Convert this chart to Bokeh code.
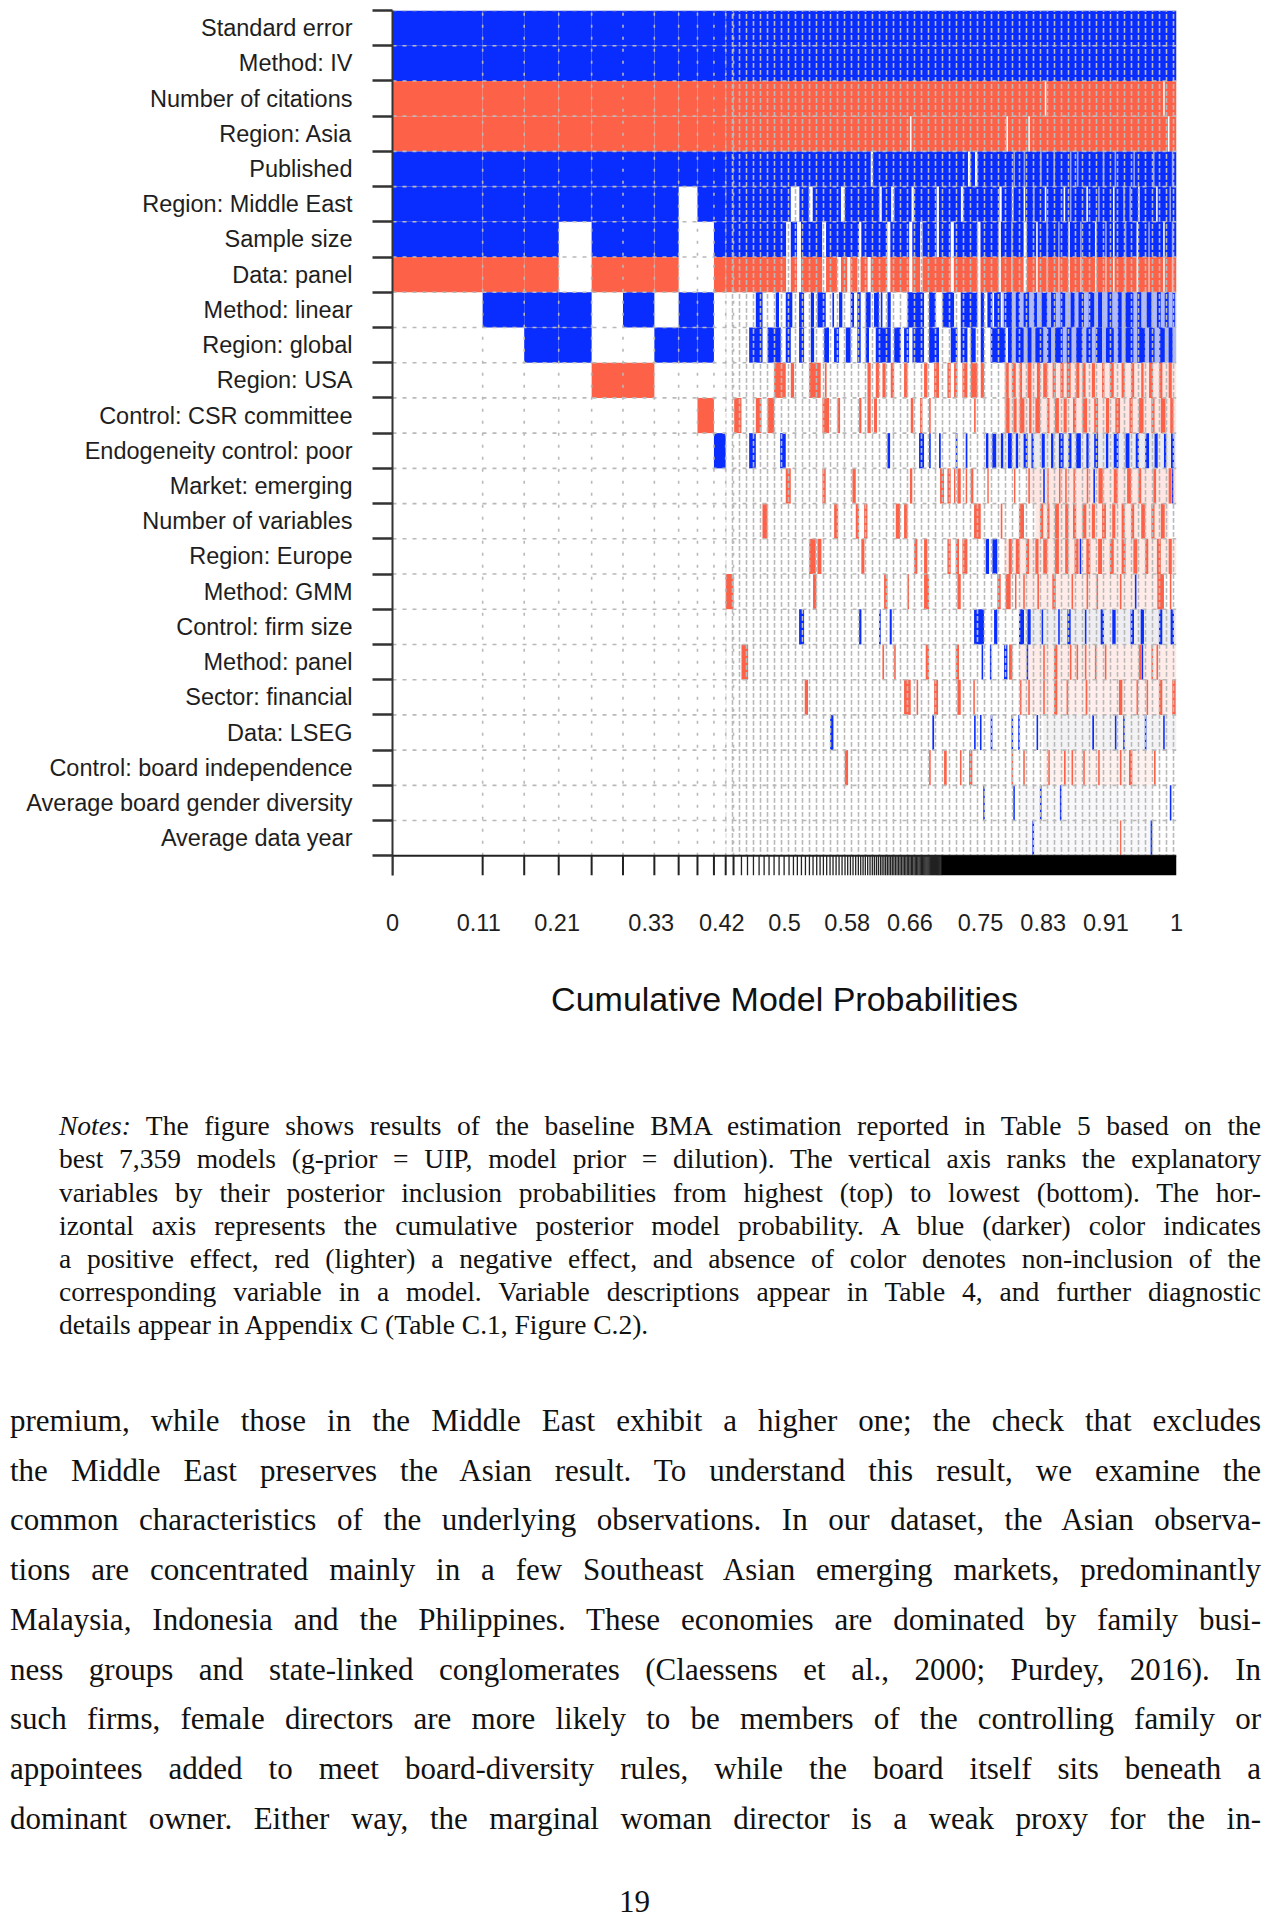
from bokeh.plotting import figure
from bokeh.models import Range1d, FixedTicker, Div
from bokeh.layouts import column
from bokeh.embed import file_html
from bokeh.resources import INLINE

BLUE = "#0a2dff"
RED = "#fd6248"
GRID = "#b9b9b9"

variables = [
    "Standard error", "Method: IV", "Number of citations", "Region: Asia", "Published",
    "Region: Middle East", "Sample size", "Data: panel", "Method: linear", "Region: global",
    "Region: USA", "Control: CSR committee", "Endogeneity control: poor", "Market: emerging",
    "Number of variables", "Region: Europe", "Method: GMM", "Control: firm size",
    "Method: panel", "Sector: financial", "Data: LSEG", "Control: board independence",
    "Average board gender diversity", "Average data year",
]

# cumulative posterior model probability at the edges of the best (widest) models
top_model_edges = [0.0, 0.115, 0.168, 0.212, 0.254, 0.294, 0.334, 0.365, 0.389, 0.410, 0.425, 0.435]
# sign of each variable in those models ('+' positive, '-' negative, '0' not included)
top_model_signs = [
    "++--+++-0000000000000000",
    "++--+++-+000000000000000",
    "++--+++-++00000000000000",
    "++--++00++00000000000000",
    "++--+++-00-0000000000000",
    "++--+++-+0-0000000000000",
    "++--+++-0+00000000000000",
    "++--+000++00000000000000",
    "++--++00++0-000000000000",
    "++--+++-0000+00000000000",
    "++--+++-00000000-0000000",
]

# remaining models (cumulative probability 0.435 - 1): variables included almost everywhere
tail_start = 0.435
tail_full_rows = {
    "Standard error": "+", "Method: IV": "+", "Number of citations": "-", "Region: Asia": "-",
    "Published": "+", "Region: Middle East": "+", "Sample size": "+", "Data: panel": "-",
}
# models where those variables are NOT included
tail_gaps = {
    "Number of citations": [(0.832, 0.834), (0.983, 0.985)],
    "Region: Asia": [(0.660, 0.662), (0.783, 0.785), (0.811, 0.813), (0.989, 0.991)],
    "Published": [(0.610, 0.613), (0.734, 0.737), (0.743, 0.746)],
    "Region: Middle East": [(0.508, 0.519), (0.531, 0.536), (0.572, 0.577), (0.621, 0.624), (0.636, 0.640),
                            (0.662, 0.665), (0.694, 0.697), (0.725, 0.728), (0.774, 0.777), (0.790, 0.792),
                            (0.805, 0.807), (0.832, 0.834), (0.856, 0.858), (0.885, 0.887), (0.919, 0.921),
                            (0.951, 0.953), (0.974, 0.976)],
    "Sample size": [(0.502, 0.508), (0.516, 0.521), (0.548, 0.553), (0.595, 0.598), (0.631, 0.635),
                    (0.659, 0.663), (0.673, 0.676), (0.694, 0.697), (0.712, 0.716), (0.746, 0.750),
                    (0.773, 0.776), (0.805, 0.809), (0.821, 0.823), (0.862, 0.864), (0.896, 0.898),
                    (0.919, 0.921), (0.949, 0.951), (0.983, 0.985)],
    "Data: panel": [(0.502, 0.508), (0.516, 0.521), (0.548, 0.553), (0.567, 0.572), (0.580, 0.584),
                    (0.593, 0.597), (0.606, 0.610), (0.631, 0.635), (0.659, 0.663), (0.673, 0.676),
                    (0.712, 0.716), (0.746, 0.750), (0.773, 0.776), (0.805, 0.809), (0.821, 0.823),
                    (0.862, 0.864), (0.896, 0.898), (0.919, 0.921), (0.949, 0.951), (0.983, 0.985)],
}
# very thin models, partially excluding the variable
tail_soft_gaps = {
    "Published": [(0.792, 0.794), (0.805, 0.807), (0.826, 0.828), (0.843, 0.845), (0.864, 0.866),
                  (0.873, 0.875), (0.906, 0.908), (0.921, 0.923), (0.945, 0.947), (0.970, 0.972), (0.994, 0.996)],
    "Region: Middle East": [(0.817, 0.819), (0.864, 0.866), (0.900, 0.902), (0.932, 0.934), (0.940, 0.942), (0.991, 0.993)],
    "Sample size": [(0.789, 0.791), (0.834, 0.836), (0.849, 0.851), (0.877, 0.879), (0.909, 0.911),
                    (0.934, 0.936), (0.964, 0.966), (0.994, 0.996)],
    "Data: panel": [(0.789, 0.791), (0.834, 0.836), (0.849, 0.851), (0.877, 0.879), (0.909, 0.911),
                    (0.934, 0.936), (0.964, 0.966), (0.994, 0.996)],
}

# remaining models: positive inclusions
tail_positive = {
    "Method: linear": [(0.4634, 0.472), (0.4888, 0.493), (0.5016, 0.510), (0.5186, 0.525), (0.5335, 0.5377),
                       (0.542, 0.5526), (0.5611, 0.5632), (0.5696, 0.5738), (0.5844, 0.5887), (0.5929, 0.5972),
                       (0.6035, 0.6099), (0.6142, 0.6205), (0.6228, 0.6249), (0.6313, 0.6355), (0.6568, 0.678),
                       (0.6844, 0.6929), (0.7014, 0.7163), (0.7248, 0.746), (0.7503, 0.7545), (0.7588, 0.7651),
                       (0.7673, 0.7758), (0.780, 0.790), (0.795, 0.800), (0.805, 0.812), (0.818, 0.822),
                       (0.828, 0.835), (0.840, 0.846), (0.852, 0.858), (0.865, 0.870), (0.875, 0.882),
                       (0.888, 0.895), (0.900, 0.905), (0.912, 0.918), (0.925, 0.930), (0.935, 0.945),
                       (0.950, 0.955), (0.962, 0.968), (0.975, 0.980), (0.985, 0.990), (0.995, 0.998)],
    "Region: global": [(0.4549, 0.472), (0.4783, 0.4953), (0.5016, 0.508), (0.5186, 0.525), (0.5335, 0.5378),
                       (0.5505, 0.5568), (0.5632, 0.5696), (0.5781, 0.5844), (0.5929, 0.5972), (0.6035, 0.6078),
                       (0.6164, 0.6355), (0.6398, 0.6483), (0.6525, 0.6589), (0.6632, 0.678), (0.6844, 0.6971),
                       (0.712, 0.7205), (0.7248, 0.7333), (0.7375, 0.7439), (0.7503, 0.7545), (0.763, 0.7821),
                       (0.785, 0.790), (0.795, 0.805), (0.810, 0.815), (0.820, 0.830), (0.835, 0.840),
                       (0.845, 0.855), (0.860, 0.866), (0.872, 0.880), (0.885, 0.892), (0.897, 0.905),
                       (0.910, 0.920), (0.925, 0.930), (0.935, 0.945), (0.950, 0.960), (0.965, 0.972),
                       (0.978, 0.985), (0.990, 0.995)],
    "Endogeneity control: poor": [(0.4549, 0.4634), (0.4944, 0.5016), (0.6313, 0.6347), (0.6716, 0.678),
                                  (0.6844, 0.6865), (0.6971, 0.6993), (0.7184, 0.7205), (0.7311, 0.7333),
                                  (0.757, 0.760), (0.765, 0.770), (0.776, 0.779), (0.785, 0.790), (0.795, 0.798),
                                  (0.805, 0.810), (0.815, 0.818), (0.828, 0.832), (0.840, 0.843), (0.850, 0.856),
                                  (0.862, 0.866), (0.872, 0.878), (0.885, 0.888), (0.895, 0.900), (0.910, 0.913),
                                  (0.920, 0.926), (0.935, 0.940), (0.948, 0.952), (0.960, 0.965), (0.972, 0.976),
                                  (0.984, 0.987), (0.993, 0.997)],
    "Market: emerging": [(0.8300, 0.8320), (0.8940, 0.8960), (0.9940, 0.9960)],
    "Region: Europe": [(0.7566, 0.7609), (0.7651, 0.7715), (0.8765, 0.8785)],
    "Method: GMM": [(0.9469, 0.9489)],
    "Control: firm size": [(0.5186, 0.525), (0.5951, 0.5981), (0.6206, 0.6228), (0.6342, 0.6368), (0.7418, 0.7545),
                           (0.7673, 0.7715), (0.7991, 0.8055), (0.8098, 0.814), (0.8279, 0.8299), (0.8491, 0.8511),
                           (0.8608, 0.865), (0.8831, 0.8851), (0.9033, 0.9075), (0.9181, 0.9224), (0.9415, 0.9458),
                           (0.9543, 0.9585), (0.9776, 0.9819), (0.9925, 0.9968)],
    "Method: panel": [(0.7514, 0.7534), (0.762, 0.764), (0.780, 0.7843), (0.8088, 0.8108), (0.9555, 0.9575)],
    "Data: LSEG": [(0.5582, 0.5624), (0.6886, 0.6908), (0.7418, 0.7439), (0.7493, 0.7513), (0.763, 0.7651),
                   (0.7896, 0.7916), (0.7981, 0.8001), (0.8215, 0.8235), (0.8926, 0.8948), (0.9214, 0.9234),
                   (0.932, 0.934), (0.9596, 0.9616), (0.983, 0.985)],
    "Average board gender diversity": [(0.7535, 0.7555), (0.7918, 0.7938), (0.8258, 0.8278), (0.8513, 0.8533),
                                       (0.9915, 0.9935)],
    "Average data year": [(0.8161, 0.8183), (0.967, 0.9691)],
}
# remaining models: negative inclusions
tail_negative = {
    "Region: USA": [(0.4867, 0.5016), (0.508, 0.5122), (0.5313, 0.5462), (0.5515, 0.5537), (0.6058, 0.61),
                    (0.6164, 0.6206), (0.6249, 0.6291), (0.6355, 0.6398), (0.6525, 0.6568), (0.678, 0.6823),
                    (0.6908, 0.6971), (0.7078, 0.712), (0.7163, 0.7205), (0.7269, 0.7333), (0.7375, 0.746),
                    (0.7503, 0.7545), (0.782, 0.786), (0.790, 0.795), (0.800, 0.803), (0.810, 0.815),
                    (0.822, 0.826), (0.830, 0.835), (0.842, 0.846), (0.852, 0.856), (0.860, 0.865),
                    (0.872, 0.876), (0.880, 0.884), (0.892, 0.896), (0.905, 0.908), (0.915, 0.920),
                    (0.930, 0.934), (0.942, 0.946), (0.955, 0.958), (0.965, 0.970), (0.978, 0.982), (0.990, 0.994)],
    "Control: CSR committee": [(0.4358, 0.4451), (0.4634, 0.4706), (0.4783, 0.4868), (0.5484, 0.5569),
                               (0.5675, 0.5709), (0.5951, 0.5981), (0.6058, 0.61), (0.6142, 0.618),
                               (0.661, 0.6644), (0.6729, 0.6759), (0.6844, 0.6865), (0.7418, 0.7439),
                               (0.782, 0.787), (0.792, 0.796), (0.800, 0.806), (0.812, 0.815), (0.820, 0.826),
                               (0.835, 0.838), (0.845, 0.850), (0.856, 0.860), (0.868, 0.872), (0.880, 0.886),
                               (0.895, 0.900), (0.910, 0.914), (0.922, 0.928), (0.940, 0.944), (0.952, 0.958),
                               (0.968, 0.972), (0.980, 0.986), (0.992, 0.996)],
    "Market: emerging": [(0.5016, 0.508), (0.5484, 0.5526), (0.5866, 0.5909), (0.6600, 0.6630), (0.6984, 0.7035),
                         (0.7078, 0.712), (0.7162, 0.7180), (0.7205, 0.7248), (0.7311, 0.7330), (0.7375, 0.7409),
                         (0.7587, 0.7605), (0.7927, 0.7945), (0.8110, 0.8130), (0.8352, 0.8370), (0.8501, 0.8520),
                         (0.8580, 0.8600), (0.8685, 0.8705), (0.8855, 0.8875), (0.9005, 0.9060), (0.9200, 0.9250),
                         (0.9370, 0.9420), (0.9515, 0.9550), (0.9705, 0.9740), (0.9900, 0.9935)],
    "Number of variables": [(0.4719, 0.4783), (0.5633, 0.5684), (0.5909, 0.5951), (0.6015, 0.6058),
                            (0.6419, 0.6474), (0.6525, 0.6568), (0.7418, 0.7503), (0.7758, 0.7779),
                            (0.7991, 0.8055), (0.826, 0.830), (0.835, 0.838), (0.845, 0.850), (0.858, 0.862),
                            (0.868, 0.872), (0.880, 0.885), (0.892, 0.896), (0.905, 0.910), (0.918, 0.922),
                            (0.930, 0.934), (0.942, 0.946), (0.955, 0.960), (0.968, 0.972), (0.980, 0.985)],
    "Region: Europe": [(0.5314, 0.5399), (0.542, 0.5471), (0.5980, 0.6020), (0.6653, 0.6695), (0.678, 0.6823),
                       (0.7078, 0.712), (0.7184, 0.7226), (0.7269, 0.7333), (0.786, 0.790), (0.795, 0.800),
                       (0.808, 0.812), (0.820, 0.824), (0.830, 0.835), (0.845, 0.850), (0.858, 0.862),
                       (0.870, 0.875), (0.885, 0.890), (0.900, 0.905), (0.915, 0.920), (0.930, 0.935),
                       (0.945, 0.950), (0.960, 0.964), (0.975, 0.980), (0.990, 0.994)],
    "Method: GMM": [(0.5364, 0.5407), (0.627, 0.6313), (0.6568, 0.6589), (0.678, 0.6844), (0.7205, 0.7248),
                    (0.7715, 0.7758), (0.7821, 0.7885), (0.7939, 0.7959), (0.8045, 0.8065), (0.8225, 0.8246),
                    (0.8416, 0.8459), (0.8661, 0.8681), (0.8853, 0.8873), (0.898, 0.900), (0.9278, 0.9298),
                    (0.9755, 0.984), (0.9915, 0.9935)],
    "Method: panel": [(0.4451, 0.4536), (0.6249, 0.627), (0.6398, 0.6419), (0.6801, 0.6844), (0.7184, 0.7226),
                      (0.7864, 0.7906), (0.830, 0.832), (0.8438, 0.848), (0.864, 0.866), (0.8725, 0.8745),
                      (0.8831, 0.8851), (0.8959, 0.8979), (0.9086, 0.9106), (0.9520, 0.9555), (0.9681, 0.9701),
                      (0.9745, 0.9765)],
    "Sector: financial": [(0.5258, 0.530), (0.6525, 0.661), (0.6685, 0.6705), (0.6908, 0.6959), (0.7205, 0.7248),
                          (0.7408, 0.7428), (0.8003, 0.8023), (0.8109, 0.8129), (0.830, 0.832), (0.8438, 0.848),
                          (0.8598, 0.8618), (0.8841, 0.8863), (0.9266, 0.9309), (0.949, 0.951), (0.9618, 0.9638),
                          (0.9776, 0.9819), (0.9946, 0.9989)],
    "Control: board independence": [(0.5769, 0.5811), (0.6844, 0.6865), (0.7035, 0.7069), (0.7238, 0.7258),
                                    (0.7354, 0.7396), (0.7896, 0.7916), (0.8045, 0.8065), (0.8364, 0.8384),
                                    (0.8565, 0.8586), (0.8661, 0.8681), (0.881, 0.883), (0.9001, 0.9021),
                                    (0.9278, 0.9298), (0.9394, 0.9436), (0.9713, 0.9734)],
    "Average data year": [(0.9280, 0.9296)],
}
# ranges where thousands of tiny models blend into a tint (variable: (from, to, strength))
tail_tint_positive = {"Method: linear": (0.778, 1.0, 0.32), "Region: global": (0.785, 1.0, 0.32)}
tail_tint_negative = {
    "Region: USA": (0.78, 1.0, 0.16), "Control: CSR committee": (0.78, 1.0, 0.16),
    "Market: emerging": (0.81, 1.0, 0.16), "Number of variables": (0.82, 0.99, 0.14),
    "Region: Europe": (0.78, 1.0, 0.14), "Method: GMM": (0.80, 0.98, 0.12),
    "Method: panel": (0.80, 1.0, 0.12), "Sector: financial": (0.80, 1.0, 0.11),
    "Control: board independence": (0.83, 0.97, 0.09),
}
tail_tint_mixed = {
    "Endogeneity control: poor": (0.755, 1.0, 0.18), "Control: firm size": (0.80, 1.0, 0.15),
    "Data: LSEG": (0.83, 1.0, 0.11), "Average board gender diversity": (0.80, 0.97, 0.06),
    "Average data year": (0.80, 0.97, 0.06),
}

# model edges (cumulative probabilities) still distinguishable on the axis
tail_model_edges = [
    0.4451, 0.4528, 0.4604, 0.4676, 0.474, 0.4803, 0.4867, 0.4931, 0.4995, 0.5058, 0.5114, 0.5164,
    0.5216, 0.5267, 0.5318, 0.5364, 0.5411, 0.5454, 0.5496, 0.5538, 0.5581, 0.5619, 0.5658, 0.5696,
    0.5734, 0.5772, 0.5806, 0.5841, 0.5874, 0.5908, 0.5942, 0.5972, 0.6002, 0.6031, 0.6061, 0.6091,
    0.612, 0.6146, 0.6172, 0.6197, 0.6223, 0.6245, 0.6268, 0.629, 0.6312, 0.6333, 0.6354, 0.6375,
    0.6395, 0.6415, 0.6435, 0.6455, 0.6474, 0.6493, 0.6512, 0.653, 0.6548, 0.6566, 0.6584, 0.6601,
    0.6618, 0.6635, 0.6652, 0.6668, 0.6684, 0.67, 0.6716, 0.6731, 0.6746, 0.6761, 0.6776, 0.679,
    0.6804, 0.6818, 0.6832, 0.6846, 0.686, 0.6873, 0.6886, 0.6899, 0.6912, 0.6925, 0.6938, 0.695,
    0.6962, 0.6974, 0.6986, 0.6998,
]
dense_edges_range = (0.70, 1.0)

x_tick_values = [0, 0.11, 0.21, 0.33, 0.42, 0.5, 0.58, 0.66, 0.75, 0.83, 0.91, 1]
x_tick_text = ["0", "0.11", "0.21", "0.33", "0.42", "0.5", "0.58", "0.66", "0.75", "0.83", "0.91", "1"]

notes_lines = [
    "<i>Notes:</i> The figure shows results of the baseline BMA estimation reported in Table 5 based on the",
    "best 7,359 models (g-prior = UIP, model prior = dilution). The vertical axis ranks the explanatory",
    "variables by their posterior inclusion probabilities from highest (top) to lowest (bottom). The hor-",
    "izontal axis represents the cumulative posterior model probability. A blue (darker) color indicates",
    "a positive effect, red (lighter) a negative effect, and absence of color denotes non-inclusion of the",
    "corresponding variable in a model. Variable descriptions appear in Table 4, and further diagnostic",
    "details appear in Appendix C (Table C.1, Figure C.2).",
]
body_lines = [
    "premium, while those in the Middle East exhibit a higher one; the check that excludes",
    "the Middle East preserves the Asian result. To understand this result, we examine the",
    "common characteristics of the underlying observations. In our dataset, the Asian observa-",
    "tions are concentrated mainly in a few Southeast Asian emerging markets, predominantly",
    "Malaysia, Indonesia and the Philippines. These economies are dominated by family busi-",
    "ness groups and state-linked conglomerates (Claessens et al., 2000; Purdey, 2016). In",
    "such firms, female directors are more likely to be members of the controlling family or",
    "appointees added to meet board-diversity rules, while the board itself sits beneath a",
    "dominant owner. Either way, the marginal woman director is a weak proxy for the in-",
]
page_number = "19"

# ------------------------------------------------------------------ figure
K = len(variables)
FIG_W, FIG_H, DIV_H = 1269, 1020, 904


def row_of(name):
    return K - 1 - variables.index(name)


p = figure(width=FIG_W, height=FIG_H, x_range=Range1d(0, 1), y_range=Range1d(-0.56, K),
           output_backend="svg", toolbar_location=None,
           min_border_left=392, min_border_right=93, min_border_top=10, min_border_bottom=144)
p.outline_line_color = None
p.xgrid.visible = False
p.ygrid.visible = False

# best models
L, R, B, T, C = [], [], [], [], []
for i, signs in enumerate(top_model_signs):
    assert len(signs) == K
    for j, s in enumerate(signs):
        if s == "0":
            continue
        L.append(top_model_edges[i]); R.append(top_model_edges[i + 1])
        B.append(K - 1 - j); T.append(K - j)
        C.append(BLUE if s == "+" else RED)
# tail: always-included variables
for name, s in tail_full_rows.items():
    r = row_of(name)
    L.append(tail_start); R.append(1.0); B.append(r); T.append(r + 1)
    C.append(BLUE if s == "+" else RED)
p.quad(left=L, right=R, bottom=B, top=T, fill_color=C, line_color=None)


def quads(d, color, alpha):
    l, r_, b, t = [], [], [], []
    for name, ivs in d.items():
        rr = row_of(name)
        for a, z in ivs:
            l.append(a); r_.append(z); b.append(rr); t.append(rr + 1)
    p.quad(left=l, right=r_, bottom=b, top=t, fill_color=color, fill_alpha=alpha, line_color=None)


def tints(d, color):
    l, r_, b, t, a_ = [], [], [], [], []
    for name, (a, z, s) in d.items():
        rr = row_of(name)
        l.append(a); r_.append(z); b.append(rr); t.append(rr + 1); a_.append(s)
    p.quad(left=l, right=r_, bottom=b, top=t, fill_color=color, fill_alpha=a_, line_color=None)


quads(tail_gaps, "white", 1.0)
quads(tail_soft_gaps, "white", 0.55)
tints(tail_tint_positive, BLUE)
tints(tail_tint_negative, RED)
tints(tail_tint_mixed, "#8e8ea8")
quads(tail_positive, BLUE, 1.0)
quads(tail_negative, RED, 1.0)

# grid: dashed row separators and dotted model separators
p.segment(x0=[0] * K, y0=list(range(1, K + 1)), x1=[1] * K, y1=list(range(1, K + 1)),
          line_color=GRID, line_width=1.6, line_dash="4 6")
p.segment(x0=top_model_edges[1:], y0=[0] * (len(top_model_edges) - 1),
          x1=top_model_edges[1:], y1=[K] * (len(top_model_edges) - 1),
          line_color=GRID, line_width=1.6, line_dash="3 9")
p.quad(left=[top_model_edges[-2]], right=[1.0], bottom=[0], top=[K], fill_color=None, line_color=None,
       hatch_pattern=":", hatch_color=GRID, hatch_scale=7, hatch_weight=1.6)

# x axis line, one tick per model edge, dense edges merge into a band
p.segment(x0=[0], y0=[0], x1=[1], y1=[0], line_color="#222222", line_width=2)
p.segment(x0=top_model_edges, y0=[0] * len(top_model_edges), x1=top_model_edges,
          y1=[-0.56] * len(top_model_edges), line_color="#222222", line_width=2)
p.segment(x0=tail_model_edges, y0=[0] * len(tail_model_edges), x1=tail_model_edges,
          y1=[-0.56] * len(tail_model_edges), line_color="#222222", line_width=1.3)
p.quad(left=[dense_edges_range[0]], right=[dense_edges_range[1]], bottom=[-0.56], top=[0],
       fill_color="black", line_color=None)

# axes
xa = p.xaxis[0]
xa.ticker = FixedTicker(ticks=x_tick_values)
xa.major_label_overrides = {float(v): s for v, s in zip(x_tick_values, x_tick_text)}
xa.axis_line_color = None
xa.major_tick_line_color = None
xa.minor_tick_line_color = None
xa.major_tick_out = 0
xa.minor_tick_out = 0
xa.major_label_standoff = 38
xa.major_label_text_font = "Liberation Sans"
xa.major_label_text_font_size = "23.5px"
xa.major_label_text_color = "#1e1e1e"
xa.axis_label = "Cumulative Model Probabilities"
xa.axis_label_text_font = "Liberation Sans"
xa.axis_label_text_font_style = "normal"
xa.axis_label_text_font_size = "34px"
xa.axis_label_text_color = "#111111"
xa.axis_label_standoff = 46

centers = [K - 0.5 - j for j in range(K)]
ya = p.yaxis[0]
ya.ticker = FixedTicker(ticks=centers, minor_ticks=list(range(0, K + 1)))
ya.major_label_overrides = {float(c): n for c, n in zip(centers, variables)}
ya.major_tick_line_color = None
ya.major_tick_out = 0
ya.major_tick_in = 0
ya.minor_tick_out = 20
ya.minor_tick_in = 0
ya.minor_tick_line_width = 2.5
ya.minor_tick_line_color = "#333333"
ya.axis_line_width = 2
ya.axis_line_color = "#333333"
ya.major_label_standoff = 20
ya.major_label_text_font = "Liberation Sans"
ya.major_label_text_font_size = "23.5px"
ya.major_label_text_color = "#1e1e1e"

# ------------------------------------------------------------------ text of the page
parts = [f'<div style="position:relative;width:{FIG_W}px;height:{DIV_H}px;color:#111;">']
for i, line in enumerate(notes_lines):
    top = 1126.7 + 33.13 * i - FIG_H - 17.5
    align = "justify" if i < len(notes_lines) - 1 else "left"
    parts.append(
        f'<div style="position:absolute;left:59px;top:{top:.1f}px;width:1202px;'
        f"font-family:'Liberation Serif';font-size:27.5px;line-height:33px;"
        f'text-align:{align};text-align-last:{align};">{line}</div>')
for i, line in enumerate(body_lines):
    top = 1422.5 + 49.7 * i - FIG_H - 21.5
    parts.append(
        f'<div style="position:absolute;left:10px;top:{top:.1f}px;width:1251px;'
        f"font-family:'Liberation Serif';font-size:31px;line-height:40px;"
        f'text-align:justify;text-align-last:justify;">{line}</div>')
parts.append(
    f'<div style="position:absolute;left:0px;top:{1903 - FIG_H - 16:.1f}px;width:1269px;text-align:center;'
    f"font-family:'Liberation Serif';font-size:31px;line-height:30px;\">{page_number}</div>")
parts.append("</div>")
div = Div(text="".join(parts), width=FIG_W, height=DIV_H, margin=0)

layout = column(p, div, spacing=0)
open("out.html", "w").write(file_html(layout, INLINE))
